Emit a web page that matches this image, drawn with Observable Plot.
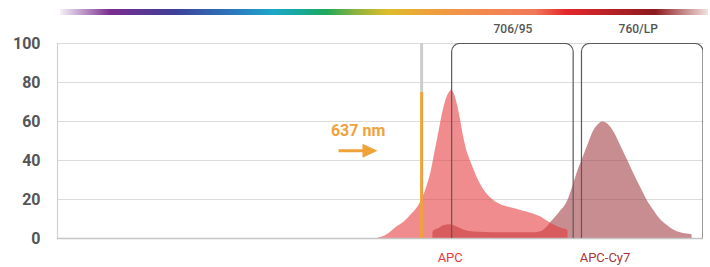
<!DOCTYPE html>
<html>
<head>
<meta charset="utf-8">
<script src="https://cdn.jsdelivr.net/npm/d3@7"></script>
<script src="https://cdn.jsdelivr.net/npm/@observablehq/plot@0.6"></script>
<style>
  body { margin: 0; background: #fff; font-family: Roboto, "Noto Sans", sans-serif; }
  #barwrap { position: relative; height: 15px; width: 710px; }
  #bar { position: absolute; left: 60px; top: 9px; width: 648px; height: 6px; }
</style>
</head>
<body>
<div id="barwrap"><div id="bar"></div></div>
<div id="chart"></div>
<script>
// ---- data ----
const wavelengthDomain = [350, 855];
const yTicks = [0, 20, 40, 60, 80, 100];

const apcNm  = [600, 608, 615, 621, 626, 631, 635, 639, 642, 645, 648, 651, 654, 656.5, 658, 660, 662.5, 665, 667.5, 670, 673, 677, 681, 685, 690, 695, 700, 706, 712, 720, 728, 734, 740, 745, 749, 749.1];
const apcVal = [0, 2, 5.8, 8.5, 11.8, 15.5, 20, 27, 34, 44, 54, 64, 71.5, 75, 76, 74.5, 69, 61, 52, 45, 39.5, 33, 27.5, 23.5, 20, 17.8, 16.5, 15.5, 14.4, 13, 11, 8.4, 6.3, 5, 4.2, 0];

const cy7Nm  = [643.5, 643.6, 648, 652, 657, 662, 667, 672, 680, 700, 720, 728, 733, 736, 742, 749, 753.5, 757, 761, 765, 769, 773, 776, 779, 782, 786, 790, 795, 800, 806, 811, 816, 821, 827, 832, 837, 842, 846, 846.1];
const cy7Val = [0, 3.5, 5, 6.5, 7, 6, 4.5, 3.6, 3.2, 2.9, 2.9, 3.5, 6, 8.4, 13, 19.5, 28, 35, 41.7, 48.5, 55, 58.5, 59.7, 59.2, 57.5, 53.5, 48, 41, 34, 26, 19.5, 14.5, 10, 6.5, 4.2, 2.9, 2.3, 1.9, 0];

const dyes = ["APC", "APC-Cy7"];
const dyeLabelNm = [657, 778];
const dyeLabelColors = ["#e5393f", "#a6343b"];

const filterNames = ["706/95", "760/LP"];
const filterLo = [658.5, 760];
const filterHi = [753.5, 855];
const filterLabelNm = [706, 804];

const laserNm = 637;
const laserPower = 75;
const laserLabel = "637 nm";

const gradientStops = [
  ["#f6f1f7", 0], ["#7b2d8f", 7.7], ["#3f3f97", 17.4], ["#2b78be", 26.7], ["#1ea6c9", 32.7],
  ["#18a89a", 37], ["#1fa95a", 41.2], ["#8ab23f", 45.5], ["#ddbd2b", 50.5], ["#efa03c", 57.1],
  ["#f28a4e", 64.8], ["#f17858", 73.3], ["#e4282c", 78], ["#8b1a1f", 91.8], ["#f3e2df", 100]
];

// ---- build ----
document.getElementById("bar").style.background =
  "linear-gradient(to right, " + gradientStops.map(([c, p]) => `${c} ${p}%`).join(", ") + ")";

const apc = apcNm.map((x, i) => ({x, y: apcVal[i]}));
const cy7 = cy7Nm.map((x, i) => ({x, y: cy7Val[i]}));
const filters = filterNames.map((name, i) => ({name, lo: filterLo[i], hi: filterHi[i], at: filterLabelNm[i]}));
const dyeLabels = dyes.map((name, i) => ({name, at: dyeLabelNm[i], color: dyeLabelColors[i]}));

const rightTriangle = {
  draw(ctx) {
    ctx.moveTo(7.5, 0);
    ctx.lineTo(-7.5, -7);
    ctx.lineTo(-7.5, 7);
    ctx.closePath();
  }
};

const chart = Plot.plot({
  width: 710,
  height: 252,
  marginTop: 28,
  marginBottom: 29,
  marginLeft: 57,
  marginRight: 7,
  style: {fontFamily: "Roboto, sans-serif", fontSize: "16px", fontWeight: "bold", color: "#555", background: "white", overflow: "visible"},
  x: {domain: wavelengthDomain, axis: null},
  y: {domain: [0, 100], ticks: yTicks, tickSize: 0, tickPadding: 17, label: null},
  marks: [
    Plot.ruleY(yTicks, {stroke: "#dcdcdc", strokeWidth: 1.2}),
    Plot.ruleX([wavelengthDomain[0]], {stroke: "#d0d0d0", strokeWidth: 1.2}),
    Plot.areaY(cy7, {x: "x", y: "y", curve: "monotone-x", fill: "rgb(160,58,66)", fillOpacity: 0.58}),
    Plot.areaY(apc, {x: "x", y: "y", curve: "monotone-x", fill: "rgb(228,53,56)", fillOpacity: 0.57}),
    Plot.ruleY([0], {stroke: "#c4c4c4", strokeWidth: 1.5}),
    Plot.ruleX([laserNm], {y1: laserPower, y2: 100, stroke: "#cccccc", strokeWidth: 3, dx: -3}),
    Plot.ruleX([laserNm], {y1: 0, y2: laserPower, stroke: "#f0a23a", strokeWidth: 3, dx: -3}),
    Plot.rect(filters, {x1: "lo", x2: "hi", y1: 0, y2: 100, rx: 8, fill: "none", stroke: "#5a5a5a", strokeWidth: 1.2,
      insetBottom: -14, insetTop: 0.5, insetRight: 0, clip: true}),
    Plot.text(filters, {x: "at", y: 100, text: "name", dy: -14, fontSize: 12, fontWeight: 500, fill: "#555"}),
    Plot.text([laserLabel], {x: 585, y: 55, text: d => d, fontSize: 16, fontWeight: "bold", fill: "#f0a23a"}),
    Plot.link([laserLabel], {x1: 569.7, x2: 590, y1: 45, y2: 45, stroke: "#f0a23a", strokeWidth: 3}),
    Plot.dot([laserLabel], {x: 594.3, y: 45, symbol: rightTriangle, fill: "#f0a23a", stroke: "none"}),
    Plot.text(dyeLabels, {x: "at", y: 0, text: "name", dy: 19, fontSize: 13, fontWeight: "normal", fill: "color"})
  ]
});
document.getElementById("chart").appendChild(chart);
</script>
</body>
</html>
